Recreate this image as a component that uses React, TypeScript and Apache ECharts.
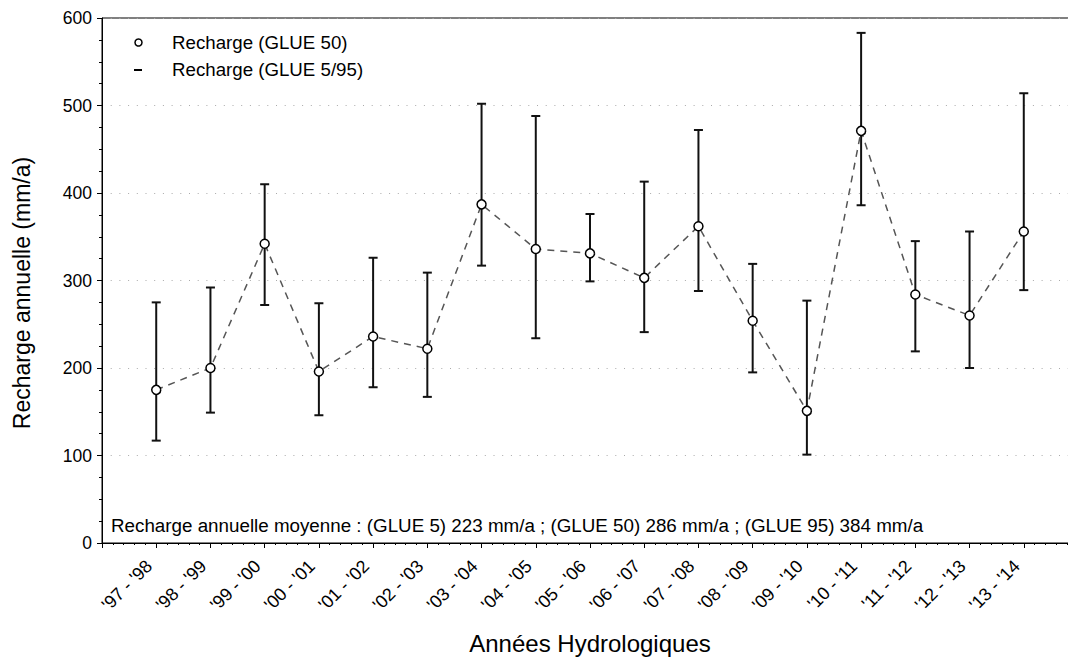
import React, { useEffect, useRef } from "react";
import * as echarts from "echarts";

const years = [
  "'97 - '98", "'98 - '99", "'99 - '00", "'00 - '01", "'01 - '02", "'02 - '03",
  "'03 - '04", "'04 - '05", "'05 - '06", "'06 - '07", "'07 - '08", "'08 - '09",
  "'09 - '10", "'10 - '11", "'11 - '12", "'12 - '13", "'13 - '14",
];
const glue50 = [175, 200, 342, 196, 236, 222, 387, 336, 331, 303, 362, 254, 151, 471, 284, 260, 356];
const glue5 = [117, 149, 272, 146, 178, 167, 317, 234, 299, 241, 288, 195, 101, 386, 219, 200, 289];
const glue95 = [275, 292, 410, 274, 326, 309, 502, 488, 376, 413, 472, 319, 277, 583, 345, 356, 514];
const yTicks = [0, 100, 200, 300, 400, 500, 600];
const legendLabels = ["Recharge (GLUE 50)", "Recharge (GLUE 5/95)"];
const yTitle = "Recharge annuelle (mm/a)";
const xTitle = "Années Hydrologiques";
const note =
  "Recharge annuelle moyenne : (GLUE 5) 223 mm/a ; (GLUE 50) 286 mm/a ; (GLUE 95) 384 mm/a";

const FONT = "'Liberation Sans', Arial, sans-serif";

export default function App() {
  const ref = useRef<HTMLDivElement>(null);
  useEffect(() => {
    if (!ref.current) return;
    const chart = echarts.init(ref.current, undefined, { renderer: "svg" });
    const errData = years.map((_, i) => [i + 1, glue5[i], glue95[i]]);
    const midData = years.map((_, i) => [i + 1, glue50[i]]);
    chart.setOption({
      animation: false,
      textStyle: { fontFamily: FONT },
      grid: {
        left: 102,
        top: 18,
        right: -10,
        bottom: 116,
        containLabel: false,
        outerBoundsMode: "none",
        show: true,
        borderColor: "#000",
        borderWidth: 1,
        backgroundColor: "transparent",
      },
      xAxis: {
        type: "value",
        min: 0,
        max: 18,
        interval: 1,
        name: xTitle,
        nameLocation: "middle",
        nameGap: 88,
        nameTextStyle: { fontSize: 24, color: "#000", fontFamily: FONT },
        axisLine: { show: true, lineStyle: { color: "#000", width: 1 } },
        axisTick: { show: true, length: 5, lineStyle: { color: "#000" } },
        minorTick: { show: true, splitNumber: 5, length: 2, lineStyle: { color: "#000" } },
        splitLine: { show: false },
        axisLabel: {
          rotate: 45,
          fontSize: 18,
          color: "#000",
          margin: 13,
          padding: [0, 10, 0, 0],
          fontFamily: FONT,
          formatter: (v: number) => (v >= 1 && v <= years.length ? years[v - 1] : ""),
        },
      },
      yAxis: {
        type: "value",
        min: yTicks[0],
        max: yTicks[yTicks.length - 1],
        interval: 100,
        axisLine: { show: true, lineStyle: { color: "#000", width: 1 } },
        axisTick: { show: true, length: 5, lineStyle: { color: "#000" } },
        minorTick: { show: true, splitNumber: 4, length: 3, lineStyle: { color: "#000" } },
        splitLine: { show: true, lineStyle: { color: "#aaa", width: 1, type: [1, 7.7] } },
        axisLabel: { fontSize: 17.5, color: "#000", margin: 10, fontFamily: FONT },
      },
      series: [
        {
          type: "custom",
          data: errData,
          z: 2,
          renderItem: (params: any, api: any) => {
            const x = api.value(0);
            const lo = api.coord([x, api.value(1)]);
            const hi = api.coord([x, api.value(2)]);
            const cap = 4.5;
            const style = { stroke: "#111", lineWidth: 2, fill: "none" };
            return {
              type: "group",
              children: [
                { type: "line", shape: { x1: lo[0], y1: lo[1], x2: hi[0], y2: hi[1] }, style },
                { type: "line", shape: { x1: lo[0] - cap, y1: lo[1], x2: lo[0] + cap, y2: lo[1] }, style },
                { type: "line", shape: { x1: hi[0] - cap, y1: hi[1], x2: hi[0] + cap, y2: hi[1] }, style },
              ],
            };
          },
        },
        {
          type: "line",
          data: midData,
          z: 3,
          symbol: "circle",
          symbolSize: 9,
          itemStyle: { color: "#fff", borderColor: "#000", borderWidth: 1.5 },
          lineStyle: { color: "#555", width: 1.5, type: [7, 6] },
        },
      ],
      graphic: [
        { type: "circle", shape: { cx: 138.5, cy: 42.5, r: 3.5 }, style: { fill: "#fff", stroke: "#000", lineWidth: 1.5 } },
        { type: "line", shape: { x1: 134, y1: 70, x2: 142, y2: 70 }, style: { stroke: "#000", lineWidth: 2 } },
        {
          type: "text",
          x: 172,
          y: 42.5,
          style: { text: legendLabels[0], fontSize: 18.7, fill: "#000", fontFamily: FONT, verticalAlign: "middle" },
        },
        {
          type: "text",
          x: 172,
          y: 69.5,
          style: { text: legendLabels[1], fontSize: 18.7, fill: "#000", fontFamily: FONT, verticalAlign: "middle" },
        },
        {
          type: "text",
          x: 111,
          y: 525,
          style: { text: note, fontSize: 18.8, fill: "#000", fontFamily: FONT, verticalAlign: "middle" },
        },
        {
          type: "text",
          x: 22,
          y: 293,
          rotation: Math.PI / 2,
          style: {
            text: yTitle,
            fontSize: 23,
            fill: "#000",
            fontFamily: FONT,
            align: "center",
            verticalAlign: "middle",
          },
        },
      ],
    });
    return () => chart.dispose();
  }, []);
  return (
    <div
      ref={ref}
      style={{ position: "absolute", left: 0, top: 0, width: 1068, height: 659, overflow: "hidden" }}
    />
  );
}
